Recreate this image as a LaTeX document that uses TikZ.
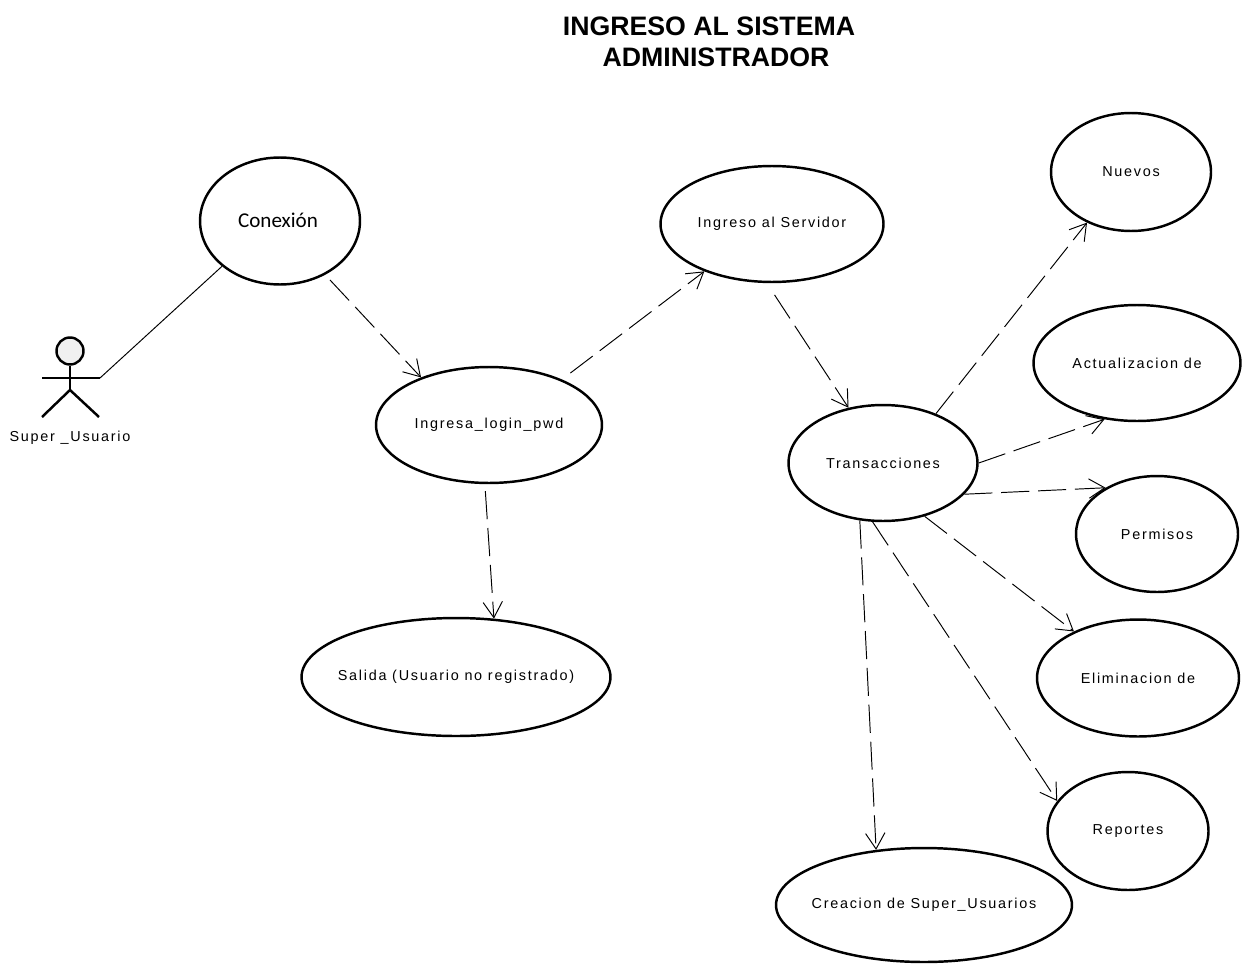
\documentclass[tikz,border=0pt]{standalone}
\usepackage{fontspec}
\setmainfont{Liberation Sans}
\newfontfamily\labelfont[LetterSpace=12]{Liberation Sans}
\newfontfamily\notefont{Carlito}
\usetikzlibrary{arrows.meta,shapes.geometric}
\tikzset{
    usecase/.style={draw,ellipse,line width=1.4pt,inner sep=0pt,font=\labelfont\fontsize{8.2}{9}\selectfont},
    depend/.style={line width=0.55pt,dash pattern=on 16pt off 5pt,-{Straight Barb[length=9pt,width=11pt,line width=0.55pt]}},
    actorline/.style={line width=1.4pt},
    titletext/.style={font=\bfseries\fontsize{15.2}{16}\selectfont}
}
\begin{document}
\begin{tikzpicture}[x=0.02cm,y=-0.02cm]
    \useasboundingbox (0,0) rectangle (1246,963);

    % Titulo
    \node[titletext] (titulo) at (709,26) {INGRESO AL SISTEMA};
    \node[titletext] (subtitulo) at (716,57) {ADMINISTRADOR};

    % Casos de uso
    \node[usecase,minimum width=3.2cm,minimum height=2.54cm] (conexion) at (280,221) {};
    \node[font=\notefont\fontsize{12}{14}\selectfont] (conexiontxt) at (278,220) {Conexión};
    \node[usecase,minimum width=4.46cm,minimum height=2.32cm] (servidor) at (772,224) {Ingreso al Servidor};
    \node[usecase,minimum width=3.2cm,minimum height=2.36cm] (nuevos) at (1131,172) {Nuevos};
    \node[usecase,minimum width=4.14cm,minimum height=2.32cm] (actualiza) at (1137,363) {Actualizacion de};
    \node[usecase,minimum width=4.52cm,minimum height=2.32cm] (login) at (489,425) {Ingresa\_login\_pwd};
    \node[usecase,minimum width=3.78cm,minimum height=2.32cm] (transac) at (883,463) {Transacciones};
    \node[usecase,minimum width=3.24cm,minimum height=2.32cm] (permisos) at (1157,534) {Permisos};
    \node[usecase,minimum width=4.04cm,minimum height=2.34cm] (elimina) at (1138,678) {Eliminacion de};
    \node[usecase,inner xsep=-8pt,minimum width=6.18cm,minimum height=2.36cm] (salida) at (456,677) {Salida (Usuario no registrado)};
    \node[usecase,minimum width=3.22cm,minimum height=2.36cm] (reportes) at (1128,831) {Reportes};
    \node[usecase,inner xsep=-8pt,minimum width=5.92cm,minimum height=2.28cm] (creacion) at (924,905) {Creacion de Super\_Usuarios};

    % Actor
    \node[draw,circle,actorline,fill=black!6,minimum size=0.54cm,inner sep=0pt] (cabeza) at (70,351) {};
    \coordinate (cadera) at (70,390);
    \coordinate (manoizq) at (42,378);
    \coordinate (manoder) at (100,378);
    \coordinate (pieizq) at (42,417);
    \coordinate (pieder) at (99,417);
    \draw[actorline] (cabeza.south) -- (cadera);
    \draw[actorline] (manoizq) -- (manoder);
    \draw[actorline] (pieizq) -- (cadera) -- (pieder);
    \node[font=\labelfont\fontsize{8.2}{9}\selectfont] (actor) at (70,438) {Super \_Usuario};

    % Asociacion
    \draw[line width=0.55pt] (manoder) -- (conexion.218.8);

    % Dependencias
    \draw[depend,shorten <=4pt] (conexion.-50) -- (login.145);
    \draw[depend,shorten <=6pt] (login.32) -- (servidor.215.7);
    \draw[depend,shorten <=8pt] (servidor.265) -- (transac.122.5);
    \draw[depend,shorten <=4pt] (login.266) -- (salida.57.9);
    \foreach \ini/\dest/\fin in {43/nuevos/229,0/actualiza/240.7,-21/permisos/138.7,-52/elimina/144.7,260/reportes/157.5,248/creacion/131.7} {
        \draw[depend] (transac.\ini) -- (\dest.\fin);
    }
\end{tikzpicture}
\end{document}
